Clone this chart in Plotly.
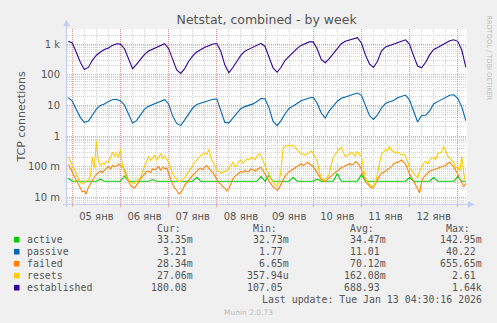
import plotly.graph_objects as go
import pandas as pd

# ---------------- data ----------------
# smooth series: 2-hour samples, Jan 4 22:00 .. Jan 13 04:00
times = pd.date_range('2026-01-04 22:00', periods=100, freq='2h')
# noisy series: 1-hour samples, Jan 4 22:00 .. Jan 13 04:00
times_1h = pd.date_range('2026-01-04 22:00', periods=199, freq='1h')

established = [1250,
    1100, 550, 260, 150, 175, 300, 440, 560, 680, 760, 920, 1040,
    1020, 720, 350, 160, 220, 320, 470, 600, 700, 820, 920, 1050,
    720, 320, 145, 112, 160, 280, 420, 560, 680, 800, 900, 1020,
    1060, 580, 210, 118, 175, 270, 440, 600, 690, 770, 930, 1080,
    850, 380, 170, 122, 177, 300, 410, 560, 740, 920, 1040, 1200,
    1200, 700, 320, 250, 340, 500, 760, 1050, 1250, 1350, 1450, 1640,
    1100, 450, 230, 175, 280, 600, 820, 900, 1000, 1100, 1250, 1400,
    1000, 420, 195, 170, 260, 450, 680, 780, 950, 1100, 1300, 1400,
    1250, 650, 180]

passive = [18,
    14, 7.4, 4.1, 2.8, 3.1, 4.8, 7.6, 10.1, 11.2, 13.5, 15.5, 16,
    14, 10.4, 5.2, 2.7, 3.2, 4.9, 7.6, 9.4, 10.6, 12, 13.7, 15.5,
    11.2, 4.5, 2.6, 2.2, 3.4, 5.6, 8.4, 10.8, 12, 13.5, 14.6, 16,
    16.3, 7.1, 2.8, 2.7, 3.8, 5.7, 8, 9.2, 10.1, 11.3, 13.5, 16.9,
    16.6, 8.4, 3.0, 2.2, 3.2, 5.4, 8.1, 10, 11.6, 14.2, 16, 17.6,
    18.5, 11.8, 5.7, 3.9, 6.7, 10, 13.8, 17.2, 19.4, 20.9, 23.2, 25.6,
    21.5, 10.4, 4.7, 3.5, 4.9, 8.3, 11.6, 13.2, 14.6, 18, 20, 22,
    15, 6.5, 2.9, 4.7, 4.8, 6.7, 11.2, 13.4, 15.7, 18.3, 21.6, 22.4,
    17.2, 9, 3.21]

active = [0.042,
    0.0335, 0.0335, 0.0335, 0.0335, 0.0335, 0.0335, 0.0335, 0.039, 0.0335, 0.0335, 0.0335, 0.0335,
    0.0335, 0.05, 0.0335, 0.0335, 0.0335, 0.0335, 0.0335, 0.0335, 0.038, 0.0335, 0.0335, 0.0335,
    0.0335, 0.0335, 0.0335, 0.0335, 0.0335, 0.0335, 0.0335, 0.045, 0.0335, 0.0335, 0.0335, 0.0335,
    0.0335, 0.0335, 0.0335, 0.0335, 0.0335, 0.0335, 0.0335, 0.0335, 0.0335, 0.0335, 0.0335, 0.048,
    0.0335, 0.053, 0.0335, 0.0335, 0.0335, 0.0335, 0.0335, 0.045, 0.0335, 0.0335, 0.0335, 0.0335,
    0.0335, 0.039, 0.0335, 0.0335, 0.0335, 0.0335, 0.06, 0.0335, 0.0335, 0.0335, 0.0335, 0.0335,
    0.055, 0.0335, 0.0335, 0.0335, 0.0335, 0.0335, 0.0335, 0.0335, 0.0335, 0.0335, 0.0335, 0.0335,
    0.045, 0.0335, 0.0335, 0.0335, 0.0335, 0.0335, 0.045, 0.0335, 0.0335, 0.0335, 0.0335, 0.0335,
    0.048, 0.0335, 0.0335]

resets = [0.21, 0.15,
    0.11, 0.08, 0.058, 0.04, 0.031, 0.028, 0.03, 0.034, 0.037, 0.05, 0.21, 0.09,
    0.7, 0.15, 0.11, 0.13, 0.12, 0.15, 0.14, 0.19, 0.3, 0.22, 0.27, 0.2,
    0.38, 0.1, 0.067, 0.045, 0.037, 0.03, 0.03, 0.028, 0.034, 0.04, 0.045, 0.07,
    0.098, 0.14, 0.22, 0.16, 0.19, 0.23, 0.165, 0.2, 0.27, 0.18, 0.22, 0.17,
    0.14, 0.09, 0.058, 0.045, 0.037, 0.033, 0.033, 0.038, 0.045, 0.055, 0.07, 0.09,
    0.12, 0.14, 0.165, 0.2, 0.23, 0.26, 0.28, 0.25, 0.37, 0.2, 0.14, 0.1,
    0.078, 0.07, 0.062, 0.066, 0.069, 0.075, 0.09, 0.11, 0.14, 0.1, 0.11, 0.15,
    0.165, 0.13, 0.15, 0.18, 0.165, 0.2, 0.19, 0.17, 0.22, 0.26, 0.24, 0.15,
    0.105, 0.075, 0.058, 0.04, 0.031, 0.026, 0.023, 0.032, 0.08, 0.42, 0.45, 0.5,
    0.52, 0.47, 0.5, 0.42, 0.34, 0.3, 0.27, 0.25, 0.24, 0.27, 0.28, 0.33,
    0.27, 0.2, 0.15, 0.07, 0.04, 0.038, 0.04, 0.045, 0.058, 0.12, 0.2, 0.25,
    0.32, 0.38, 0.43, 0.3, 0.21, 0.24, 0.25, 0.3, 0.25, 0.22, 0.32, 0.25,
    0.22, 0.09, 0.042, 0.032, 0.026, 0.023, 0.022, 0.03, 0.06, 0.14, 0.25, 0.3,
    0.37, 0.33, 0.46, 0.35, 0.32, 0.28, 0.31, 0.27, 0.24, 0.26, 0.22, 0.15,
    0.09, 0.075, 0.062, 0.05, 0.042, 0.07, 0.1, 0.13, 0.15, 0.12, 0.165, 0.19,
    0.2, 0.17, 0.27, 0.29, 0.3, 0.45, 0.34, 0.22, 0.18, 0.16, 0.14, 0.09,
    0.1, 0.07, 0.22, 0.06, 0.027]

failed = [0.12, 0.09,
    0.067, 0.05, 0.036, 0.026, 0.019, 0.015, 0.016, 0.013, 0.021, 0.028, 0.037, 0.045,
    0.056, 0.065, 0.072, 0.065, 0.08, 0.09, 0.1, 0.085, 0.11, 0.1, 0.105, 0.12,
    0.11, 0.1, 0.078, 0.05, 0.034, 0.024, 0.022, 0.02, 0.025, 0.03, 0.041, 0.05,
    0.06, 0.07, 0.072, 0.065, 0.084, 0.08, 0.088, 0.1, 0.078, 0.095, 0.088, 0.09,
    0.062, 0.04, 0.026, 0.02, 0.017, 0.013, 0.014, 0.018, 0.025, 0.03, 0.037, 0.045,
    0.052, 0.06, 0.07, 0.085, 0.09, 0.08, 0.098, 0.11, 0.088, 0.075, 0.064, 0.05,
    0.037, 0.03, 0.027, 0.022, 0.02, 0.016, 0.019, 0.03, 0.04, 0.048, 0.053, 0.062,
    0.07, 0.065, 0.075, 0.068, 0.07, 0.085, 0.08, 0.072, 0.078, 0.09, 0.094, 0.075,
    0.06, 0.045, 0.033, 0.026, 0.022, 0.02, 0.017, 0.02, 0.027, 0.038, 0.05, 0.058,
    0.07, 0.075, 0.084, 0.09, 0.1, 0.11, 0.125, 0.11, 0.12, 0.14, 0.125, 0.11,
    0.1, 0.08, 0.062, 0.048, 0.038, 0.034, 0.033, 0.038, 0.044, 0.05, 0.056, 0.065,
    0.072, 0.085, 0.094, 0.1, 0.11, 0.12, 0.125, 0.115, 0.12, 0.145, 0.135, 0.11,
    0.08, 0.05, 0.036, 0.028, 0.023, 0.02, 0.021, 0.028, 0.04, 0.05, 0.06, 0.068,
    0.072, 0.08, 0.088, 0.1, 0.125, 0.13, 0.14, 0.15, 0.165, 0.14, 0.12, 0.085,
    0.056, 0.045, 0.034, 0.025, 0.019, 0.014, 0.032, 0.045, 0.053, 0.062, 0.072, 0.075,
    0.08, 0.085, 0.09, 0.095, 0.1, 0.105, 0.11, 0.13, 0.14, 0.12, 0.098, 0.075,
    0.058, 0.04, 0.03, 0.022, 0.028]

series_names = ['active', 'passive', 'failed', 'resets', 'established']
series_colors = ['#00CC00', '#0066B3', '#FF8000', '#FFCC00', '#330099']
cur_vals = ['33.35m', '3.21', '28.34m', '27.06m', '180.08']
min_vals = ['32.73m', '1.77', '6.65m', '357.94u', '107.05']
avg_vals = ['34.47m', '11.01', '70.12m', '162.08m', '688.93']
max_vals = ['142.95m', '40.22', '655.65m', '2.61', '1.64k']

y_tickvals = [0.01, 0.1, 1, 10, 100, 1000]
y_ticktext = ['10 m', '100 m', '1', '10', '100', '1 k']
day_labels = ['05 янв', '06 янв', '07 янв', '08 янв', '09 янв', '10 янв', '11 янв', '12 янв']
midnights = pd.date_range('2026-01-05', '2026-01-13', freq='D')
noons = pd.date_range('2026-01-05 12:00', '2026-01-12 12:00', freq='D')
x_range = ['2026-01-04 21:22', '2026-01-13 04:36']

title_text = 'Netstat, combined - by week'
y_title = 'TCP connections'
last_update = 'Last update: Tue Jan 13 04:30:16 2026'

# ---------------- geometry ----------------
W, H = 497, 323
L, T, PW, PH = 67, 29, 400, 175


def px(x):
    return (x - L) / PW


def py(y):
    return (T + PH - y) / PH


TXT = '#555555'
MONO = 'DejaVu Sans Mono'
SANS = 'DejaVu Sans'
AXC = '#C4CCF4'
MAJ = 'rgba(232,90,90,0.55)'
MIN = '#D2D2D2'

fig = go.Figure()
series = [(active, times), (passive, times), (failed, times_1h),
          (resets, times_1h), (established, times)]
for name, (vals, tx), col in zip(series_names, series, series_colors):
    fig.add_trace(go.Scatter(x=tx, y=vals, mode='lines', name=name,
                             line=dict(color=col, width=1.1), showlegend=False,
                             hoverinfo='skip', xaxis='x', yaxis='y'))

minor_y = []
for e in range(-3, 4):
    for d in range(2, 10):
        v = d * 10 ** e
        if 0.006 <= v <= 3300:
            minor_y.append(round(v, 6))

fig.update_layout(
    width=W, height=H, autosize=False,
    margin=dict(l=L, r=W - L - PW, t=T, b=H - T - PH, pad=0),
    paper_bgcolor='#F0F0F0', plot_bgcolor='#FFFFFF',
    showlegend=False,
    font=dict(family=SANS, size=10, color=TXT),
    title=dict(text=title_text, x=248 / W, xanchor='center', xref='paper',
               y=1 - 19.5 / H, yanchor='middle', yref='container',
               font=dict(family=SANS, size=12.5, color=TXT)),
    xaxis=dict(type='date', range=x_range, tickvals=list(midnights),
               ticktext=[''] * len(midnights), showgrid=True,
               gridcolor=MAJ, griddash='1px,1px', gridwidth=1,
               ticks='outside', ticklen=2, tickcolor=MAJ,
               showline=False, zeroline=False,
               minor=dict(dtick=6 * 3600 * 1000, tick0='2026-01-05',
                          showgrid=True, gridcolor=MIN,
                          griddash='1px,1px', ticks='')),
    xaxis2=dict(type='date', overlaying='x', side='bottom', range=x_range,
                tickvals=list(noons), ticktext=day_labels, showgrid=False,
                ticks='outside', ticklen=3, tickcolor='rgba(0,0,0,0)',
                showline=False, zeroline=False,
                tickfont=dict(family=SANS, size=10, color=TXT)),
    yaxis=dict(type='log', range=[-2.219, 3.5], tickvals=y_tickvals,
               ticktext=y_ticktext, showgrid=True,
               gridcolor=MAJ, griddash='1px,1px',
               ticks='', ticklabelstandoff=6, showline=False, zeroline=False,
               tickfont=dict(family=SANS, size=10, color=TXT),
               title=dict(text=y_title, standoff=0,
                          font=dict(family=SANS, size=11, color=TXT)),
               minor=dict(tickvals=minor_y, showgrid=True, gridcolor=MIN,
                          griddash='1px,1px', ticks='')),
)
# invisible trace to activate the label axis
fig.add_trace(go.Scatter(x=[times[0]], y=[1], xaxis='x2', yaxis='y',
                         mode='markers', marker=dict(opacity=0),
                         showlegend=False, hoverinfo='skip'))

shapes = []
shapes.append(dict(type='line', xref='paper', yref='paper', x0=px(66.5), x1=px(66.5),
                   y0=py(207), y1=py(24), line=dict(color=AXC, width=1)))
shapes.append(dict(type='path', xref='paper', yref='paper',
                   path=f'M {px(63.5)},{py(26)} L {px(69.5)},{py(26)} L {px(66.5)},{py(20)} Z',
                   fillcolor=AXC, line=dict(color=AXC, width=0.5)))
shapes.append(dict(type='line', xref='paper', yref='paper', x0=px(63), x1=px(470),
                   y0=py(204.5), y1=py(204.5), line=dict(color=AXC, width=1)))
shapes.append(dict(type='path', xref='paper', yref='paper',
                   path=f'M {px(468)},{py(201.5)} L {px(468)},{py(207.5)} L {px(474)},{py(204.5)} Z',
                   fillcolor=AXC, line=dict(color=AXC, width=0.5)))

annotations = []
annotations.append(dict(text='RRDTOOL / TOBI OETIKER', xref='paper', yref='paper',
                        x=px(488), y=py(57.5), xanchor='center', yanchor='middle',
                        textangle=90, showarrow=False,
                        font=dict(family=SANS, size=6.6, color='#BBBBBB')))

col_ends = [193.5, 290, 386.7, 483.3]
headers = ['Cur:', 'Min:', 'Avg:', 'Max:']
for hx, hd in zip(col_ends, headers):
    annotations.append(dict(text=hd + '\u00a0\u00a0', xref='paper', yref='paper',
                            x=px(hx), y=py(228.3), xanchor='right', yanchor='middle',
                            showarrow=False, borderpad=0,
                            font=dict(family=MONO, size=9.9, color=TXT)))

row_y = [239.7, 251.7, 263.7, 275.7, 287.7]
for i, name in enumerate(series_names):
    yy = row_y[i]
    shapes.append(dict(type='rect', xref='paper', yref='paper',
                       x0=px(14), x1=px(19.5), y0=py(yy + 2.8), y1=py(yy - 2.8),
                       fillcolor=series_colors[i], line=dict(width=0)))
    annotations.append(dict(text=name, xref='paper', yref='paper', x=px(26.3), y=py(yy),
                            xanchor='left', yanchor='middle', showarrow=False, borderpad=0,
                            font=dict(family=MONO, size=9.9, color=TXT)))
    for cx, arr in zip(col_ends, [cur_vals, min_vals, avg_vals, max_vals]):
        v = arr[i]
        if v[-1].isdigit():
            v = v + '\u00a0'
        annotations.append(dict(text=v, xref='paper', yref='paper', x=px(cx), y=py(yy),
                                xanchor='right', yanchor='middle', showarrow=False,
                                borderpad=0,
                                font=dict(family=MONO, size=9.9, color=TXT)))

annotations.append(dict(text=last_update, xref='paper', yref='paper', x=px(483.3),
                        y=py(299.7), xanchor='right', yanchor='middle', showarrow=False,
                        borderpad=0, font=dict(family=MONO, size=9.9, color=TXT)))
annotations.append(dict(text='Munin 2.0.73', xref='paper', yref='paper', x=px(248),
                        y=py(312.3), xanchor='center', yanchor='middle', showarrow=False,
                        borderpad=0, font=dict(family=SANS, size=7.5, color='#BBBBBB')))

fig.update_layout(shapes=shapes, annotations=annotations)
fig.write_html('out.html')
